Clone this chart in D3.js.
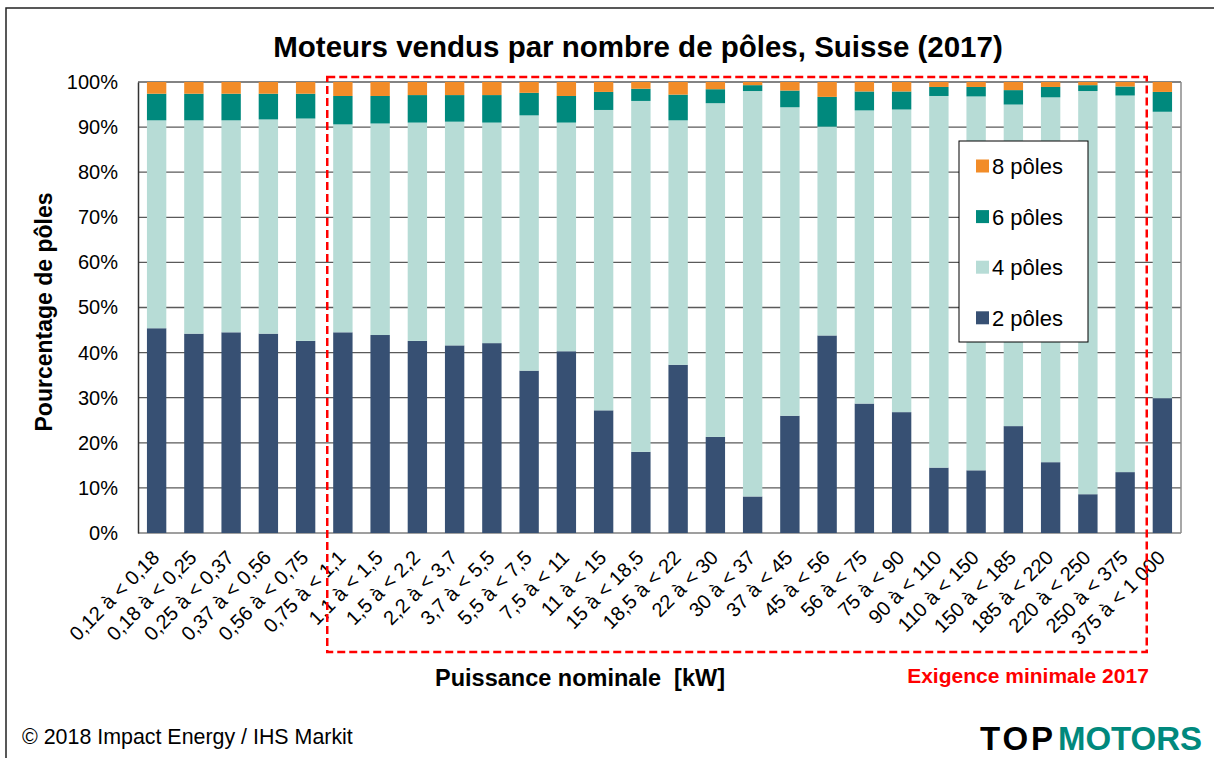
<!DOCTYPE html>
<html>
<head>
<meta charset="utf-8">
<script src="https://cdn.jsdelivr.net/npm/d3@7"></script>
<style>
  body { margin: 0; background: #fff; }
  svg text { font-family: "Liberation Sans", Arial, sans-serif; white-space: pre; }
</style>
</head>
<body>
<div id="chart"></div>
<script>
const categories = ["0,12 à < 0,18", "0,18 à < 0,25", "0,25 à < 0,37", "0,37 à < 0,56", "0,56 à < 0,75",
    "0,75 à < 1,1", "1,1 à < 1,5", "1,5 à < 2,2", "2,2 à < 3,7", "3,7 à < 5,5", "5,5 à < 7,5",
    "7,5 à < 11", "11 à < 15", "15 à < 18,5", "18,5 à < 22", "22 à < 30", "30 à < 37", "37 à < 45",
    "45 à < 56", "56 à < 75", "75 à < 90", "90 à < 110", "110 à < 150", "150 à < 185",
    "185 à < 220", "220 à < 250", "250 à < 375", "375 à < 1 000"];
const poles2 = [45.4, 44.2, 44.5, 44.2, 42.6, 44.5, 43.9, 42.6, 41.6, 42.1, 36.0, 40.3, 27.2, 18.0,
    37.3, 21.3, 8.1, 26.0, 43.8, 28.7, 26.8, 14.5, 13.9, 23.7, 15.7, 8.6, 13.5, 29.9];
const poles4 = [46.1, 47.3, 47.0, 47.5, 49.3, 46.1, 46.9, 48.4, 49.6, 48.9, 56.6, 50.7, 66.6, 77.8,
    54.2, 74.0, 89.9, 68.4, 46.3, 65.0, 67.1, 82.4, 82.9, 71.3, 80.9, 89.4, 83.5, 63.5];
const poles6 = [5.9, 5.9, 5.9, 5.7, 5.5, 6.3, 6.1, 6.1, 5.9, 6.1, 5.0, 5.9, 4.0, 2.7,
    5.7, 3.1, 1.3, 3.7, 6.6, 4.2, 4.0, 2.0, 2.1, 3.2, 2.3, 1.3, 2.0, 4.4];
const poles8 = [2.6, 2.6, 2.6, 2.6, 2.6, 3.1, 3.1, 2.9, 2.9, 2.9, 2.4, 3.1, 2.2, 1.5,
    2.8, 1.6, 0.7, 1.9, 3.3, 2.1, 2.1, 1.1, 1.1, 1.8, 1.1, 0.7, 1.0, 2.2];
const yTicks = [0, 10, 20, 30, 40, 50, 60, 70, 80, 90, 100];
const seriesNames = ["2 pôles", "4 pôles", "6 pôles", "8 pôles"];
const seriesColors = ["#375073", "#b7dcd6", "#00897d", "#f28c28"];

const w = 1214, h = 758;
const plotLeft = 138, plotRight = 1181, plotTop = 82, plotBottom = 533;

const table = categories.map(function (c, i) {
    return { cat: c, "2 pôles": poles2[i], "4 pôles": poles4[i], "6 pôles": poles6[i], "8 pôles": poles8[i] };
});
const stacked = d3.stack().keys(seriesNames)(table);

const svg = d3.select("#chart").append("svg")
    .attr("width", w)
    .attr("height", h);

// outer frame (only left and top visible in the picture)
svg.append("path")
    .attr("d", "M6," + h + "V8H" + w)
    .attr("fill", "none")
    .attr("stroke", "#222")
    .attr("stroke-width", 1.5);

const xScale = d3.scaleBand()
    .domain(categories)
    .range([plotLeft, plotRight])
    .paddingInner(0.48)
    .paddingOuter(0.24);
const yScale = d3.scaleLinear()
    .domain([0, 100])
    .range([plotBottom, plotTop]);
const color = d3.scaleOrdinal().domain(seriesNames).range(seriesColors);

// gridlines
svg.append("g")
    .selectAll("line")
    .data(yTicks)
    .enter()
    .append("line")
    .attr("x1", plotLeft)
    .attr("x2", plotRight)
    .attr("y1", function (d) { return yScale(d); })
    .attr("y2", function (d) { return yScale(d); })
    .attr("stroke", function (d) { return d === 0 ? "#7f7f7f" : "#5a5a5a"; })
    .attr("stroke-width", 1.3);

// right border of plot
svg.append("line")
    .attr("x1", plotRight).attr("x2", plotRight)
    .attr("y1", plotTop).attr("y2", plotBottom)
    .attr("stroke", "#8a8a8a")
    .attr("stroke-width", 1.5);

// bars
svg.append("g")
    .selectAll("g")
    .data(stacked)
    .enter()
    .append("g")
    .attr("fill", function (d) { return color(d.key); })
    .selectAll("rect")
    .data(function (d) { return d; })
    .enter()
    .append("rect")
    .attr("x", function (d) { return xScale(d.data.cat); })
    .attr("width", xScale.bandwidth())
    .attr("y", function (d) { return yScale(d[1]); })
    .attr("height", function (d) { return yScale(d[0]) - yScale(d[1]); });

// y axis
const yAxis = d3.axisLeft(yScale)
    .tickValues(yTicks)
    .tickSize(0)
    .tickPadding(20)
    .tickFormat(function (d) { return d + "%"; });
const gy = svg.append("g")
    .attr("transform", "translate(" + plotLeft + ",0)")
    .call(yAxis);
gy.select(".domain").attr("stroke", "#333").attr("stroke-width", 1.5);
gy.selectAll("text")
    .style("font-size", "20px")
    .attr("fill", "#000");

// x axis labels
const xAxis = d3.axisBottom(xScale).tickSize(0).tickPadding(0);
const gx = svg.append("g")
    .attr("transform", "translate(0," + plotBottom + ")")
    .call(xAxis);
gx.select(".domain").remove();
gx.selectAll("text")
    .style("font-size", "20px")
    .attr("fill", "#000")
    .attr("text-anchor", "end")
    .attr("y", 0)
    .attr("dy", 0)
    .attr("transform", "translate(4,26) rotate(-45)");

// red dashed frame: minimum requirement 2017
const step = xScale.step();
const rx1 = xScale(categories[5]) - step * 0.24 + 3;
const rx2 = xScale(categories[26]) + xScale.bandwidth() + step * 0.24 + 3;
svg.append("rect")
    .attr("x", rx1)
    .attr("y", 77)
    .attr("width", rx2 - rx1)
    .attr("height", 652 - 77)
    .attr("fill", "none")
    .attr("stroke", "#ff0000")
    .attr("stroke-width", 2.5)
    .attr("stroke-dasharray", "8,4");

// legend
const legend = svg.append("g").attr("transform", "translate(959,141)");
legend.append("rect")
    .attr("width", 129)
    .attr("height", 201)
    .attr("fill", "#fff")
    .attr("stroke", "#000")
    .attr("stroke-width", 1);
const legendItems = seriesNames.slice().reverse();
legend.selectAll("g.item")
    .data(legendItems)
    .enter()
    .append("g")
    .attr("class", "item")
    .attr("transform", function (d, i) { return "translate(0," + (25 + i * 50.6) + ")"; })
    .each(function (d) {
        const g = d3.select(this);
        g.append("rect").attr("x", 17).attr("y", -6.5).attr("width", 13).attr("height", 13).attr("fill", color(d));
        g.append("text").attr("x", 33).attr("y", 8).style("font-size", "22px").text(d);
    });

// titles
svg.append("text")
    .attr("x", 638)
    .attr("y", 57)
    .attr("text-anchor", "middle")
    .style("font-size", "29.5px")
    .style("font-weight", "bold")
    .text("Moteurs vendus par nombre de pôles, Suisse (2017)");

svg.append("text")
    .attr("transform", "rotate(-90)")
    .attr("x", -312)
    .attr("y", 52)
    .attr("text-anchor", "middle")
    .style("font-size", "23px")
    .style("font-weight", "bold")
    .text("Pourcentage de pôles");

svg.append("text")
    .attr("x", 580)
    .attr("y", 686)
    .attr("text-anchor", "middle")
    .style("font-size", "23.5px")
    .style("font-weight", "bold")
    .text("Puissance nominale  [kW]");

svg.append("text")
    .attr("x", 1028)
    .attr("y", 683)
    .attr("text-anchor", "middle")
    .attr("fill", "#ff0000")
    .style("font-size", "21px")
    .style("font-weight", "bold")
    .text("Exigence minimale 2017");

svg.append("text")
    .attr("x", 22)
    .attr("y", 744)
    .style("font-size", "21.4px")
    .text("© 2018 Impact Energy / IHS Markit");

// logo
svg.append("text")
    .attr("x", 980)
    .attr("y", 750)
    .style("font-size", "33px")
    .style("font-weight", "bold")
    .attr("textLength", 73)
    .attr("fill", "#000")
    .text("TOP");
svg.append("text")
    .attr("x", 1058)
    .attr("y", 750)
    .style("font-size", "33px")
    .style("font-weight", "bold")
    .attr("textLength", 144)
    .attr("fill", "#00897d")
    .text("MOTORS");
</script>
</body>
</html>
